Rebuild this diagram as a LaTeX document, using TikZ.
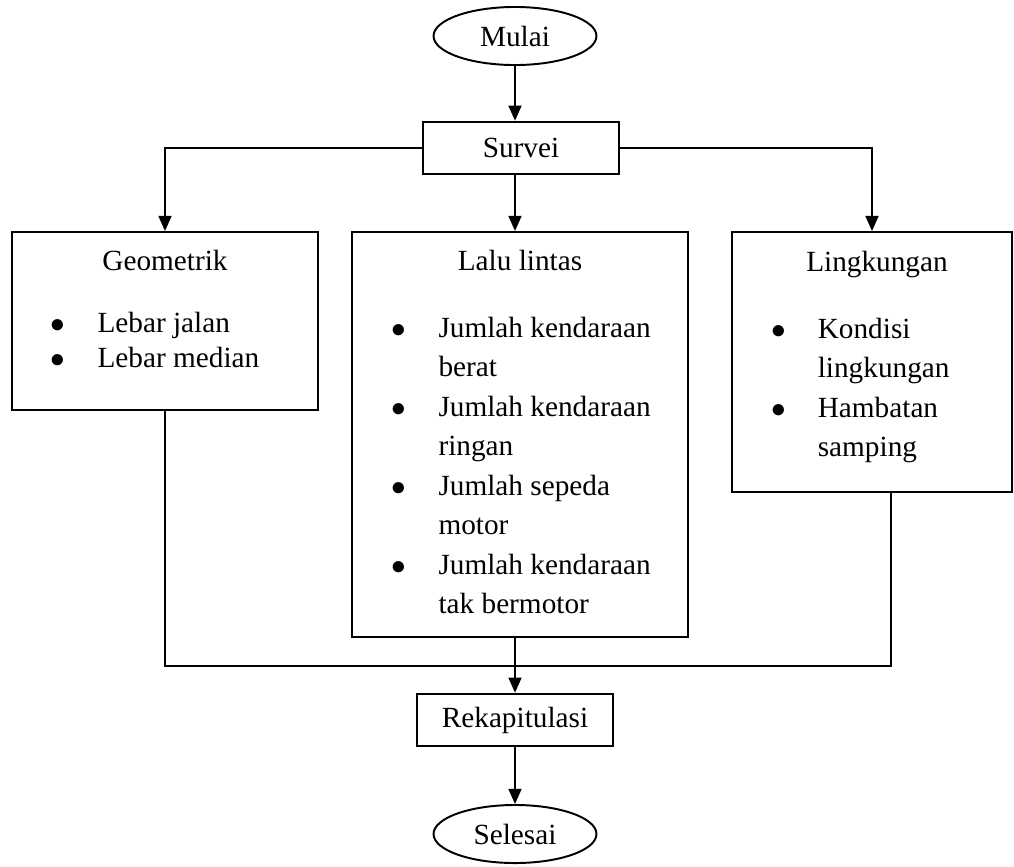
\documentclass[tikz,border=0pt]{standalone}
\usepackage{fontspec}
\setmainfont{Liberation Serif}
\usetikzlibrary{shapes.geometric,arrows.meta}

\newcommand{\butir}{$\bullet$}

\begin{document}
\begin{tikzpicture}[x=0.41pt, y=-0.41pt, every node/.style={font=\fontsize{12}{14.4}\selectfont}]
    % Styles
    \tikzstyle{terminal} = [ellipse, draw=black, line width=0.8pt, minimum width=66.8pt, minimum height=23.8pt, inner sep=0pt]
    \tikzstyle{process} = [rectangle, draw=black, line width=0.8pt, minimum width=80pt, minimum height=21.6pt, inner sep=0pt]
    \tikzstyle{group} = [rectangle, draw=black, line width=0.8pt, inner sep=0pt]
    \tikzstyle{title} = [anchor=base, inner sep=0pt]
    \tikzstyle{items} = [anchor=base west, inner sep=0pt, font=\fontsize{12}{16.2}\selectfont]
    \tikzstyle{arrow} = [line width=0.8pt,->,>={Triangle[width=5.3pt,length=6.2pt]}]
    \tikzstyle{line} = [line width=0.8pt]

    \useasboundingbox (0,0) rectangle (1014,866);

    % Nodes
    \node (mulai)   [terminal] at (515,36) {Mulai};
    \node (survei)  [process] at (521,148) {Survei};
    \node (geo)     [group, minimum width=125.5pt, minimum height=73pt] at (165,321) {};
    \node (lalu)    [group, minimum width=137.4pt, minimum height=166.1pt] at (520,434.5) {};
    \node (ling)    [group, minimum width=114.8pt, minimum height=106.6pt] at (872,362) {};
    \node (rekap)   [process] at (515,720) {Rekapitulasi};
    \node (selesai) [terminal] at (515,834) {Selesai};

    % Box contents
    \node (geotitle)  [title] at (165,270) {Geometrik};
    \node (lalutitle) [title] at (520,270) {Lalu lintas};
    \node (lingtitle) [title] at (877,271) {Lingkungan};
    \node (geolist) [items, font=\fontsize{12}{14.4}\selectfont] at (50,332) {%
      \begin{tabular}[t]{@{}p{19.3pt}@{}l@{}}
        \butir & Lebar jalan\\
        \butir & Lebar median
      \end{tabular}};
    \node (lalulist) [items] at (391,337) {%
      \begin{tabular}[t]{@{}p{19.3pt}@{}l@{}}
        \butir & Jumlah kendaraan\\
               & berat\\
        \butir & Jumlah kendaraan\\
               & ringan\\
        \butir & Jumlah sepeda\\
               & motor\\
        \butir & Jumlah kendaraan\\
               & tak bermotor
      \end{tabular}};
    \node (linglist) [items] at (771,338) {%
      \begin{tabular}[t]{@{}p{19pt}@{}l@{}}
        \butir & Kondisi\\
               & lingkungan\\
        \butir & Hambatan\\
               & samping
      \end{tabular}};

    % Joints
    \coordinate (gabung) at (515,666);
    \coordinate (lingout) at (891,492);

    % Arrows
    \draw [arrow] (mulai) -- (mulai |- survei.north);
    \draw [arrow] (survei.south -| mulai) -- (lalu.north -| mulai);
    \draw [arrow] (survei.west) -| (geo.north);
    \draw [arrow] (survei.east) -| (ling.north);
    \draw [line] (geo.south) |- (lingout |- gabung) -- (lingout);
    \draw [arrow] (lalu.south -| mulai) -- (rekap.north);
    \draw [arrow] (rekap) -- (selesai);
\end{tikzpicture}
\end{document}
